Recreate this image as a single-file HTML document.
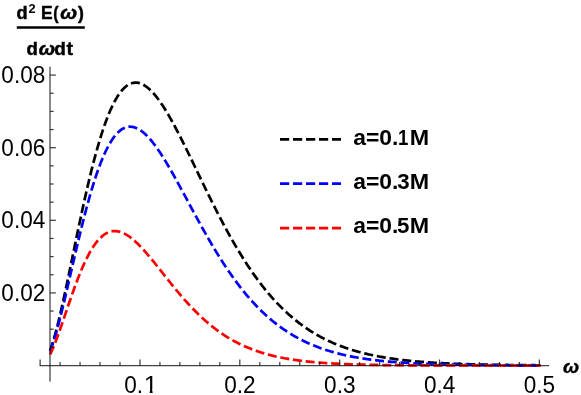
<!DOCTYPE html>
<html><head><meta charset="utf-8"><title>chart</title><style>html,body{margin:0;padding:0;background:#fff;}body{width:581px;height:395px;overflow:hidden;font-family:"Liberation Sans",sans-serif;}svg{display:block;will-change:transform;}</style></head><body>
<svg width="581" height="395" viewBox="0 0 581 395">
<rect width="581" height="395" fill="#fff"/>
<path d="M50.10,350.63 L51.33,347.10 L52.55,343.28 L53.78,339.20 L55.01,334.86 L56.24,330.29 L57.46,325.52 L58.69,320.56 L59.92,315.43 L61.14,310.15 L62.37,304.73 L63.60,299.19 L64.83,293.55 L66.05,287.82 L67.28,282.02 L68.51,276.17 L69.73,270.27 L70.96,264.34 L72.19,258.39 L73.42,252.43 L74.64,246.48 L75.87,240.55 L77.10,234.64 L78.32,228.77 L79.55,222.95 L80.78,217.18 L82.01,211.47 L83.23,205.83 L84.46,200.28 L85.69,194.80 L86.91,189.42 L88.14,184.14 L89.37,178.96 L90.60,173.90 L91.82,168.94 L93.05,164.11 L94.28,159.39 L95.50,154.81 L96.73,150.35 L97.96,146.03 L99.19,141.84 L100.41,137.79 L101.64,133.88 L102.87,130.11 L104.09,126.49 L105.32,123.01 L106.55,119.68 L107.78,116.50 L109.00,113.46 L110.23,110.57 L111.46,107.83 L112.68,105.24 L113.91,102.79 L115.14,100.49 L116.37,98.34 L117.59,96.33 L118.82,94.47 L120.05,92.75 L121.28,91.17 L122.50,89.73 L123.73,88.43 L124.96,87.27 L126.18,86.24 L127.41,85.34 L128.64,84.58 L129.87,83.94 L131.09,83.43 L132.32,83.05 L133.55,82.79 L134.77,82.64 L136.00,82.62 L137.23,82.70 L138.46,82.90 L139.68,83.21 L140.91,83.62 L142.14,84.14 L143.36,84.76 L144.59,85.48 L145.82,86.29 L147.05,87.19 L148.27,88.19 L149.50,89.27 L150.73,90.43 L151.95,91.68 L153.18,93.01 L154.41,94.41 L155.64,95.88 L156.86,97.43 L158.09,99.04 L159.32,100.72 L160.54,102.46 L161.77,104.26 L163.00,106.11 L164.23,108.02 L165.45,109.99 L166.68,112.00 L167.91,114.06 L169.13,116.16 L170.36,118.30 L171.59,120.49 L172.82,122.71 L174.04,124.97 L175.27,127.26 L176.50,129.58 L177.72,131.92 L178.95,134.30 L180.18,136.70 L181.41,139.12 L182.63,141.56 L183.86,144.02 L185.09,146.50 L186.31,148.99 L187.54,151.50 L188.77,154.01 L190.00,156.54 L191.22,159.07 L192.45,161.61 L193.68,164.16 L194.90,166.71 L196.13,169.26 L197.36,171.81 L198.59,174.36 L199.81,176.91 L201.04,179.46 L202.27,182.00 L203.49,184.53 L204.72,187.06 L205.95,189.58 L207.18,192.09 L208.40,194.60 L209.63,197.09 L210.86,199.57 L212.08,202.03 L213.31,204.49 L214.54,206.93 L215.77,209.35 L216.99,211.76 L218.22,214.15 L219.45,216.53 L220.67,218.89 L221.90,221.22 L223.13,223.55 L224.36,225.85 L225.58,228.13 L226.81,230.39 L228.04,232.63 L229.26,234.85 L230.49,237.05 L231.72,239.22 L232.95,241.38 L234.17,243.51 L235.40,245.62 L236.63,247.70 L237.85,249.77 L239.08,251.80 L240.31,253.82 L241.54,255.81 L242.76,257.78 L243.99,259.72 L245.22,261.64 L246.45,263.54 L247.67,265.41 L248.90,267.26 L250.13,269.08 L251.35,270.88 L252.58,272.65 L253.81,274.40 L255.04,276.13 L256.26,277.83 L257.49,279.50 L258.72,281.16 L259.94,282.78 L261.17,284.39 L262.40,285.97 L263.63,287.53 L264.85,289.06 L266.08,290.57 L267.31,292.05 L268.53,293.52 L269.76,294.96 L270.99,296.37 L272.22,297.77 L273.44,299.14 L274.67,300.49 L275.90,301.81 L277.12,303.12 L278.35,304.40 L279.58,305.66 L280.81,306.90 L282.03,308.12 L283.26,309.31 L284.49,310.49 L285.71,311.65 L286.94,312.78 L288.17,313.90 L289.40,314.99 L290.62,316.07 L291.85,317.12 L293.08,318.16 L294.30,319.18 L295.53,320.18 L296.76,321.16 L297.99,322.12 L299.21,323.06 L300.44,323.99 L301.67,324.90 L302.89,325.79 L304.12,326.67 L305.35,327.52 L306.58,328.36 L307.80,329.19 L309.03,330.00 L310.26,330.79 L311.48,331.57 L312.71,332.33 L313.94,333.08 L315.17,333.81 L316.39,334.53 L317.62,335.23 L318.85,335.92 L320.07,336.59 L321.30,337.25 L322.53,337.90 L323.76,338.53 L324.98,339.15 L326.21,339.76 L327.44,340.36 L328.66,340.94 L329.89,341.51 L331.12,342.07 L332.35,342.62 L333.57,343.15 L334.80,343.67 L336.03,344.19 L337.25,344.69 L338.48,345.18 L339.71,345.66 L340.94,346.13 L342.16,346.59 L343.39,347.04 L344.62,347.48 L345.84,347.91 L347.07,348.33 L348.30,348.74 L349.53,349.15 L350.75,349.54 L351.98,349.92 L353.21,350.30 L354.43,350.67 L355.66,351.03 L356.89,351.38 L358.12,351.72 L359.34,352.06 L360.57,352.39 L361.80,352.71 L363.02,353.02 L364.25,353.33 L365.48,353.63 L366.71,353.92 L367.93,354.21 L369.16,354.48 L370.39,354.76 L371.62,355.02 L372.84,355.28 L374.07,355.54 L375.30,355.79 L376.52,356.03 L377.75,356.27 L378.98,356.50 L380.21,356.72 L381.43,356.94 L382.66,357.16 L383.89,357.37 L385.11,357.57 L386.34,357.77 L387.57,357.97 L388.80,358.16 L390.02,358.35 L391.25,358.53 L392.48,358.70 L393.70,358.88 L394.93,359.05 L396.16,359.21 L397.39,359.37 L398.61,359.53 L399.84,359.68 L401.07,359.83 L402.29,359.98 L403.52,360.12 L404.75,360.26 L405.98,360.39 L407.20,360.53 L408.43,360.65 L409.66,360.78 L410.88,360.90 L412.11,361.02 L413.34,361.14 L414.57,361.25 L415.79,361.36 L417.02,361.47 L418.25,361.58 L419.47,361.68 L420.70,361.78 L421.93,361.88 L423.16,361.97 L424.38,362.06 L425.61,362.15 L426.84,362.24 L428.06,362.33 L429.29,362.41 L430.52,362.49 L431.75,362.57 L432.97,362.65 L434.20,362.73 L435.43,362.80 L436.65,362.87 L437.88,362.94 L439.11,363.01 L440.34,363.08 L441.56,363.14 L442.79,363.20 L444.02,363.27 L445.24,363.33 L446.47,363.38 L447.70,363.44 L448.93,363.50 L450.15,363.55 L451.38,363.60 L452.61,363.65 L453.83,363.70 L455.06,363.75 L456.29,363.80 L457.52,363.84 L458.74,363.89 L459.97,363.93 L461.20,363.98 L462.42,364.02 L463.65,364.06 L464.88,364.10 L466.11,364.13 L467.33,364.17 L468.56,364.21 L469.79,364.24 L471.01,364.28 L472.24,364.31 L473.47,364.34 L474.70,364.37 L475.92,364.41 L477.15,364.44 L478.38,364.46 L479.60,364.49 L480.83,364.52 L482.06,364.55 L483.29,364.57 L484.51,364.60 L485.74,364.62 L486.97,364.65 L488.19,364.67 L489.42,364.70 L490.65,364.72 L491.88,364.74 L493.10,364.76 L494.33,364.78 L495.56,364.80 L496.78,364.82 L498.01,364.84 L499.24,364.86 L500.47,364.88 L501.69,364.89 L502.92,364.91 L504.15,364.93 L505.38,364.94 L506.60,364.96 L507.83,364.97 L509.06,364.99 L510.28,365.00 L511.51,365.02 L512.74,365.03 L513.97,365.04 L515.19,365.06 L516.42,365.07 L517.65,365.08 L518.87,365.09 L520.10,365.10 L521.33,365.11 L522.56,365.13 L523.78,365.14 L525.01,365.15 L526.24,365.16 L527.46,365.17 L528.69,365.18 L529.92,365.18 L531.15,365.19 L532.37,365.20 L533.60,365.21 L534.83,365.22 L536.05,365.23 L537.28,365.23 L538.51,365.24 L539.74,365.25 L540.96,365.26" fill="none" stroke="#000000" stroke-width="2.7" stroke-dasharray="9.05 3.8" stroke-linejoin="round"/>
<path d="M50.10,351.48 L51.33,348.18 L52.55,344.61 L53.78,340.80 L55.01,336.77 L56.24,332.53 L57.46,328.11 L58.69,323.53 L59.92,318.80 L61.14,313.94 L62.37,308.97 L63.60,303.90 L64.83,298.75 L66.05,293.54 L67.28,288.28 L68.51,282.98 L69.73,277.65 L70.96,272.32 L72.19,266.98 L73.42,261.66 L74.64,256.36 L75.87,251.09 L77.10,245.86 L78.32,240.68 L79.55,235.57 L80.78,230.52 L82.01,225.54 L83.23,220.65 L84.46,215.84 L85.69,211.13 L86.91,206.52 L88.14,202.02 L89.37,197.63 L90.60,193.35 L91.82,189.19 L93.05,185.15 L94.28,181.24 L95.50,177.46 L96.73,173.80 L97.96,170.28 L99.19,166.90 L100.41,163.65 L101.64,160.55 L102.87,157.58 L104.09,154.75 L105.32,152.06 L106.55,149.51 L107.78,147.10 L109.00,144.84 L110.23,142.71 L111.46,140.72 L112.68,138.87 L113.91,137.16 L115.14,135.58 L116.37,134.14 L117.59,132.84 L118.82,131.66 L120.05,130.62 L121.28,129.70 L122.50,128.91 L123.73,128.25 L124.96,127.70 L126.18,127.28 L127.41,126.98 L128.64,126.78 L129.87,126.71 L131.09,126.74 L132.32,126.88 L133.55,127.12 L134.77,127.46 L136.00,127.91 L137.23,128.45 L138.46,129.08 L139.68,129.81 L140.91,130.62 L142.14,131.52 L143.36,132.50 L144.59,133.56 L145.82,134.70 L147.05,135.91 L148.27,137.20 L149.50,138.55 L150.73,139.96 L151.95,141.44 L153.18,142.98 L154.41,144.58 L155.64,146.23 L156.86,147.94 L158.09,149.69 L159.32,151.49 L160.54,153.34 L161.77,155.22 L163.00,157.15 L164.23,159.12 L165.45,161.12 L166.68,163.15 L167.91,165.21 L169.13,167.30 L170.36,169.42 L171.59,171.56 L172.82,173.72 L174.04,175.91 L175.27,178.11 L176.50,180.33 L177.72,182.56 L178.95,184.80 L180.18,187.06 L181.41,189.32 L182.63,191.59 L183.86,193.87 L185.09,196.15 L186.31,198.44 L187.54,200.72 L188.77,203.01 L190.00,205.29 L191.22,207.58 L192.45,209.86 L193.68,212.13 L194.90,214.40 L196.13,216.66 L197.36,218.91 L198.59,221.15 L199.81,223.39 L201.04,225.61 L202.27,227.82 L203.49,230.01 L204.72,232.20 L205.95,234.37 L207.18,236.52 L208.40,238.66 L209.63,240.78 L210.86,242.88 L212.08,244.97 L213.31,247.04 L214.54,249.09 L215.77,251.12 L216.99,253.13 L218.22,255.12 L219.45,257.09 L220.67,259.04 L221.90,260.97 L223.13,262.87 L224.36,264.76 L225.58,266.62 L226.81,268.46 L228.04,270.28 L229.26,272.08 L230.49,273.85 L231.72,275.60 L232.95,277.33 L234.17,279.03 L235.40,280.72 L236.63,282.37 L237.85,284.01 L239.08,285.62 L240.31,287.21 L241.54,288.78 L242.76,290.32 L243.99,291.84 L245.22,293.34 L246.45,294.81 L247.67,296.26 L248.90,297.69 L250.13,299.09 L251.35,300.48 L252.58,301.84 L253.81,303.17 L255.04,304.49 L256.26,305.78 L257.49,307.05 L258.72,308.30 L259.94,309.53 L261.17,310.74 L262.40,311.93 L263.63,313.09 L264.85,314.24 L266.08,315.36 L267.31,316.46 L268.53,317.55 L269.76,318.61 L270.99,319.65 L272.22,320.68 L273.44,321.68 L274.67,322.67 L275.90,323.63 L277.12,324.58 L278.35,325.51 L279.58,326.42 L280.81,327.32 L282.03,328.20 L283.26,329.06 L284.49,329.90 L285.71,330.72 L286.94,331.53 L288.17,332.32 L289.40,333.10 L290.62,333.86 L291.85,334.61 L293.08,335.33 L294.30,336.05 L295.53,336.75 L296.76,337.43 L297.99,338.10 L299.21,338.76 L300.44,339.40 L301.67,340.03 L302.89,340.64 L304.12,341.25 L305.35,341.83 L306.58,342.41 L307.80,342.97 L309.03,343.52 L310.26,344.06 L311.48,344.59 L312.71,345.10 L313.94,345.61 L315.17,346.10 L316.39,346.58 L317.62,347.05 L318.85,347.51 L320.07,347.96 L321.30,348.40 L322.53,348.83 L323.76,349.25 L324.98,349.66 L326.21,350.06 L327.44,350.45 L328.66,350.83 L329.89,351.20 L331.12,351.57 L332.35,351.92 L333.57,352.27 L334.80,352.61 L336.03,352.94 L337.25,353.26 L338.48,353.58 L339.71,353.89 L340.94,354.19 L342.16,354.48 L343.39,354.77 L344.62,355.04 L345.84,355.32 L347.07,355.58 L348.30,355.84 L349.53,356.10 L350.75,356.34 L351.98,356.58 L353.21,356.82 L354.43,357.05 L355.66,357.27 L356.89,357.49 L358.12,357.70 L359.34,357.91 L360.57,358.11 L361.80,358.31 L363.02,358.50 L364.25,358.69 L365.48,358.87 L366.71,359.05 L367.93,359.22 L369.16,359.39 L370.39,359.55 L371.62,359.71 L372.84,359.87 L374.07,360.02 L375.30,360.17 L376.52,360.31 L377.75,360.46 L378.98,360.59 L380.21,360.73 L381.43,360.86 L382.66,360.98 L383.89,361.11 L385.11,361.23 L386.34,361.34 L387.57,361.46 L388.80,361.57 L390.02,361.68 L391.25,361.78 L392.48,361.89 L393.70,361.99 L394.93,362.08 L396.16,362.18 L397.39,362.27 L398.61,362.36 L399.84,362.45 L401.07,362.53 L402.29,362.61 L403.52,362.70 L404.75,362.77 L405.98,362.85 L407.20,362.92 L408.43,363.00 L409.66,363.07 L410.88,363.14 L412.11,363.20 L413.34,363.27 L414.57,363.33 L415.79,363.39 L417.02,363.45 L418.25,363.51 L419.47,363.57 L420.70,363.62 L421.93,363.67 L423.16,363.73 L424.38,363.78 L425.61,363.82 L426.84,363.87 L428.06,363.92 L429.29,363.96 L430.52,364.01 L431.75,364.05 L432.97,364.09 L434.20,364.13 L435.43,364.17 L436.65,364.21 L437.88,364.25 L439.11,364.28 L440.34,364.32 L441.56,364.35 L442.79,364.39 L444.02,364.42 L445.24,364.45 L446.47,364.48 L447.70,364.51 L448.93,364.54 L450.15,364.57 L451.38,364.59 L452.61,364.62 L453.83,364.65 L455.06,364.67 L456.29,364.69 L457.52,364.72 L458.74,364.74 L459.97,364.76 L461.20,364.78 L462.42,364.81 L463.65,364.83 L464.88,364.85 L466.11,364.86 L467.33,364.88 L468.56,364.90 L469.79,364.92 L471.01,364.94 L472.24,364.95 L473.47,364.97 L474.70,364.98 L475.92,365.00 L477.15,365.01 L478.38,365.03 L479.60,365.04 L480.83,365.06 L482.06,365.07 L483.29,365.08 L484.51,365.10 L485.74,365.11 L486.97,365.12 L488.19,365.13 L489.42,365.14 L490.65,365.15 L491.88,365.16 L493.10,365.17 L494.33,365.18 L495.56,365.19 L496.78,365.20 L498.01,365.21 L499.24,365.22 L500.47,365.23 L501.69,365.24 L502.92,365.24 L504.15,365.25 L505.38,365.26 L506.60,365.27 L507.83,365.27 L509.06,365.28 L510.28,365.29 L511.51,365.29 L512.74,365.30 L513.97,365.30 L515.19,365.31 L516.42,365.32 L517.65,365.32 L518.87,365.33 L520.10,365.33 L521.33,365.34 L522.56,365.34 L523.78,365.35 L525.01,365.35 L526.24,365.36 L527.46,365.36 L528.69,365.37 L529.92,365.37 L531.15,365.37 L532.37,365.38 L533.60,365.38 L534.83,365.38 L536.05,365.39 L537.28,365.39 L538.51,365.39 L539.74,365.40 L540.96,365.40" fill="none" stroke="#0000ff" stroke-width="2.7" stroke-dasharray="8.975 3.8" stroke-linejoin="round"/>
<path d="M50.10,354.41 L51.33,351.86 L52.55,349.13 L53.78,346.23 L55.01,343.18 L56.24,340.01 L57.46,336.73 L58.69,333.35 L59.92,329.90 L61.14,326.39 L62.37,322.83 L63.60,319.24 L64.83,315.62 L66.05,312.00 L67.28,308.38 L68.51,304.78 L69.73,301.20 L70.96,297.65 L72.19,294.15 L73.42,290.70 L74.64,287.30 L75.87,283.98 L77.10,280.72 L78.32,277.54 L79.55,274.45 L80.78,271.45 L82.01,268.54 L83.23,265.72 L84.46,263.01 L85.69,260.40 L86.91,257.90 L88.14,255.51 L89.37,253.23 L90.60,251.06 L91.82,249.00 L93.05,247.06 L94.28,245.23 L95.50,243.52 L96.73,241.92 L97.96,240.44 L99.19,239.07 L100.41,237.81 L101.64,236.67 L102.87,235.64 L104.09,234.72 L105.32,233.91 L106.55,233.20 L107.78,232.60 L109.00,232.10 L110.23,231.70 L111.46,231.40 L112.68,231.20 L113.91,231.09 L115.14,231.07 L116.37,231.14 L117.59,231.30 L118.82,231.54 L120.05,231.86 L121.28,232.26 L122.50,232.74 L123.73,233.28 L124.96,233.90 L126.18,234.58 L127.41,235.33 L128.64,236.14 L129.87,237.01 L131.09,237.93 L132.32,238.91 L133.55,239.93 L134.77,241.01 L136.00,242.13 L137.23,243.29 L138.46,244.49 L139.68,245.73 L140.91,247.01 L142.14,248.32 L143.36,249.66 L144.59,251.02 L145.82,252.41 L147.05,253.83 L148.27,255.27 L149.50,256.72 L150.73,258.20 L151.95,259.69 L153.18,261.19 L154.41,262.71 L155.64,264.23 L156.86,265.77 L158.09,267.31 L159.32,268.85 L160.54,270.40 L161.77,271.95 L163.00,273.50 L164.23,275.05 L165.45,276.60 L166.68,278.15 L167.91,279.69 L169.13,281.23 L170.36,282.76 L171.59,284.28 L172.82,285.80 L174.04,287.30 L175.27,288.80 L176.50,290.28 L177.72,291.75 L178.95,293.21 L180.18,294.66 L181.41,296.09 L182.63,297.51 L183.86,298.92 L185.09,300.30 L186.31,301.68 L187.54,303.03 L188.77,304.37 L190.00,305.70 L191.22,307.00 L192.45,308.29 L193.68,309.56 L194.90,310.81 L196.13,312.05 L197.36,313.26 L198.59,314.46 L199.81,315.64 L201.04,316.79 L202.27,317.94 L203.49,319.06 L204.72,320.16 L205.95,321.24 L207.18,322.31 L208.40,323.35 L209.63,324.38 L210.86,325.39 L212.08,326.38 L213.31,327.35 L214.54,328.30 L215.77,329.23 L216.99,330.15 L218.22,331.04 L219.45,331.92 L220.67,332.78 L221.90,333.63 L223.13,334.45 L224.36,335.26 L225.58,336.05 L226.81,336.82 L228.04,337.58 L229.26,338.32 L230.49,339.05 L231.72,339.75 L232.95,340.45 L234.17,341.12 L235.40,341.78 L236.63,342.43 L237.85,343.06 L239.08,343.68 L240.31,344.28 L241.54,344.87 L242.76,345.44 L243.99,346.00 L245.22,346.55 L246.45,347.08 L247.67,347.60 L248.90,348.10 L250.13,348.60 L251.35,349.08 L252.58,349.55 L253.81,350.01 L255.04,350.45 L256.26,350.89 L257.49,351.31 L258.72,351.72 L259.94,352.13 L261.17,352.52 L262.40,352.90 L263.63,353.27 L264.85,353.63 L266.08,353.98 L267.31,354.32 L268.53,354.66 L269.76,354.98 L270.99,355.29 L272.22,355.60 L273.44,355.90 L274.67,356.19 L275.90,356.47 L277.12,356.74 L278.35,357.01 L279.58,357.27 L280.81,357.52 L282.03,357.77 L283.26,358.00 L284.49,358.23 L285.71,358.46 L286.94,358.68 L288.17,358.89 L289.40,359.09 L290.62,359.29 L291.85,359.49 L293.08,359.67 L294.30,359.86 L295.53,360.03 L296.76,360.21 L297.99,360.37 L299.21,360.54 L300.44,360.69 L301.67,360.85 L302.89,360.99 L304.12,361.14 L305.35,361.28 L306.58,361.41 L307.80,361.54 L309.03,361.67 L310.26,361.79 L311.48,361.91 L312.71,362.03 L313.94,362.14 L315.17,362.25 L316.39,362.36 L317.62,362.46 L318.85,362.56 L320.07,362.65 L321.30,362.75 L322.53,362.84 L323.76,362.92 L324.98,363.01 L326.21,363.09 L327.44,363.17 L328.66,363.25 L329.89,363.32 L331.12,363.39 L332.35,363.46 L333.57,363.53 L334.80,363.60 L336.03,363.66 L337.25,363.72 L338.48,363.78 L339.71,363.84 L340.94,363.89 L342.16,363.95 L343.39,364.00 L344.62,364.05 L345.84,364.10 L347.07,364.15 L348.30,364.19 L349.53,364.24 L350.75,364.28 L351.98,364.32 L353.21,364.36 L354.43,364.40 L355.66,364.44 L356.89,364.47 L358.12,364.51 L359.34,364.54 L360.57,364.58 L361.80,364.61 L363.02,364.64 L364.25,364.67 L365.48,364.70 L366.71,364.72 L367.93,364.75 L369.16,364.78 L370.39,364.80 L371.62,364.83 L372.84,364.85 L374.07,364.87 L375.30,364.89 L376.52,364.92 L377.75,364.94 L378.98,364.96 L380.21,364.97 L381.43,364.99 L382.66,365.01 L383.89,365.03 L385.11,365.04 L386.34,365.06 L387.57,365.08 L388.80,365.09 L390.02,365.10 L391.25,365.12 L392.48,365.13 L393.70,365.15 L394.93,365.16 L396.16,365.17 L397.39,365.18 L398.61,365.19 L399.84,365.20 L401.07,365.21 L402.29,365.22 L403.52,365.23 L404.75,365.24 L405.98,365.25 L407.20,365.26 L408.43,365.27 L409.66,365.28 L410.88,365.29 L412.11,365.29 L413.34,365.30 L414.57,365.31 L415.79,365.32 L417.02,365.32 L418.25,365.33 L419.47,365.33 L420.70,365.34 L421.93,365.35 L423.16,365.35 L424.38,365.36 L425.61,365.36 L426.84,365.37 L428.06,365.37 L429.29,365.38 L430.52,365.38 L431.75,365.39 L432.97,365.39 L434.20,365.39 L435.43,365.40 L436.65,365.40 L437.88,365.40 L439.11,365.41 L440.34,365.41 L441.56,365.41 L442.79,365.42 L444.02,365.42 L445.24,365.42 L446.47,365.43 L447.70,365.43 L448.93,365.43 L450.15,365.43 L451.38,365.44 L452.61,365.44 L453.83,365.44 L455.06,365.44 L456.29,365.45 L457.52,365.45 L458.74,365.45 L459.97,365.45 L461.20,365.45 L462.42,365.45 L463.65,365.46 L464.88,365.46 L466.11,365.46 L467.33,365.46 L468.56,365.46 L469.79,365.46 L471.01,365.47 L472.24,365.47 L473.47,365.47 L474.70,365.47 L475.92,365.47 L477.15,365.47 L478.38,365.47 L479.60,365.47 L480.83,365.47 L482.06,365.48 L483.29,365.48 L484.51,365.48 L485.74,365.48 L486.97,365.48 L488.19,365.48 L489.42,365.48 L490.65,365.48 L491.88,365.48 L493.10,365.48 L494.33,365.48 L495.56,365.48 L496.78,365.48 L498.01,365.49 L499.24,365.49 L500.47,365.49 L501.69,365.49 L502.92,365.49 L504.15,365.49 L505.38,365.49 L506.60,365.49 L507.83,365.49 L509.06,365.49 L510.28,365.49 L511.51,365.49 L512.74,365.49 L513.97,365.49 L515.19,365.49 L516.42,365.49 L517.65,365.49 L518.87,365.49 L520.10,365.49 L521.33,365.49 L522.56,365.49 L523.78,365.49 L525.01,365.49 L526.24,365.49 L527.46,365.49 L528.69,365.49 L529.92,365.49 L531.15,365.49 L532.37,365.49 L533.60,365.50 L534.83,365.50 L536.05,365.50 L537.28,365.50 L538.51,365.50 L539.74,365.50 L540.96,365.50" fill="none" stroke="#ff0000" stroke-width="2.7" stroke-dasharray="8.985 3.8" stroke-linejoin="round"/>
<g stroke="#000000" stroke-opacity="0.74" stroke-width="1.25" fill="none">
<line x1="39.6" y1="365.5" x2="549" y2="365.5"/>
<line x1="50" y1="66.8" x2="50" y2="381.5"/>
<line x1="40.12" y1="365.5" x2="40.12" y2="359.5"/>
<line x1="60.09" y1="365.5" x2="60.09" y2="362.0"/>
<line x1="80.06" y1="365.5" x2="80.06" y2="362.0"/>
<line x1="100.03" y1="365.5" x2="100.03" y2="362.0"/>
<line x1="120.00" y1="365.5" x2="120.00" y2="362.0"/>
<line x1="139.97" y1="365.5" x2="139.97" y2="359.5"/>
<line x1="159.94" y1="365.5" x2="159.94" y2="362.0"/>
<line x1="179.91" y1="365.5" x2="179.91" y2="362.0"/>
<line x1="199.88" y1="365.5" x2="199.88" y2="362.0"/>
<line x1="219.84" y1="365.5" x2="219.84" y2="362.0"/>
<line x1="239.81" y1="365.5" x2="239.81" y2="359.5"/>
<line x1="259.79" y1="365.5" x2="259.79" y2="362.0"/>
<line x1="279.75" y1="365.5" x2="279.75" y2="362.0"/>
<line x1="299.73" y1="365.5" x2="299.73" y2="362.0"/>
<line x1="319.70" y1="365.5" x2="319.70" y2="362.0"/>
<line x1="339.67" y1="365.5" x2="339.67" y2="359.5"/>
<line x1="359.64" y1="365.5" x2="359.64" y2="362.0"/>
<line x1="379.61" y1="365.5" x2="379.61" y2="362.0"/>
<line x1="399.57" y1="365.5" x2="399.57" y2="362.0"/>
<line x1="419.55" y1="365.5" x2="419.55" y2="362.0"/>
<line x1="439.52" y1="365.5" x2="439.52" y2="359.5"/>
<line x1="459.49" y1="365.5" x2="459.49" y2="362.0"/>
<line x1="479.46" y1="365.5" x2="479.46" y2="362.0"/>
<line x1="499.43" y1="365.5" x2="499.43" y2="362.0"/>
<line x1="519.39" y1="365.5" x2="519.39" y2="362.0"/>
<line x1="539.37" y1="365.5" x2="539.37" y2="359.5"/>
<line x1="50.1" y1="347.35" x2="53.7" y2="347.35"/>
<line x1="50.1" y1="329.20" x2="53.7" y2="329.20"/>
<line x1="50.1" y1="311.05" x2="53.7" y2="311.05"/>
<line x1="50.1" y1="292.90" x2="55.9" y2="292.90"/>
<line x1="50.1" y1="274.75" x2="53.7" y2="274.75"/>
<line x1="50.1" y1="256.60" x2="53.7" y2="256.60"/>
<line x1="50.1" y1="238.45" x2="53.7" y2="238.45"/>
<line x1="50.1" y1="220.30" x2="55.9" y2="220.30"/>
<line x1="50.1" y1="202.15" x2="53.7" y2="202.15"/>
<line x1="50.1" y1="184.00" x2="53.7" y2="184.00"/>
<line x1="50.1" y1="165.85" x2="53.7" y2="165.85"/>
<line x1="50.1" y1="147.70" x2="55.9" y2="147.70"/>
<line x1="50.1" y1="129.55" x2="53.7" y2="129.55"/>
<line x1="50.1" y1="111.40" x2="53.7" y2="111.40"/>
<line x1="50.1" y1="93.25" x2="53.7" y2="93.25"/>
<line x1="50.1" y1="75.10" x2="55.9" y2="75.10"/>
</g>
<g font-family="Liberation Sans, sans-serif" font-size="23.3" fill="#000">
<text transform="translate(239.91,392.7) scale(0.97,1)" text-anchor="middle">0.2</text>
<text transform="translate(339.77,392.7) scale(0.97,1)" text-anchor="middle">0.3</text>
<text transform="translate(439.62,392.7) scale(0.97,1)" text-anchor="middle">0.4</text>
<text transform="translate(539.47,392.7) scale(0.97,1)" text-anchor="middle">0.5</text>
<text transform="translate(124.23,392.70) scale(0.9695,1)" font-family="Liberation Sans, sans-serif" font-size="23.3" font-weight="normal" font-style="normal" fill="#000">0.</text>
<clipPath id="c1"><rect x="-2" y="-22" width="16" height="18"/><rect x="5.56" y="-4.5" width="2.66" height="6"/></clipPath>
<text transform="translate(143.70,392.7) scale(1.08,1)" clip-path="url(#c1)">1</text>
<text transform="translate(45.3,300.90) scale(0.97,1)" text-anchor="end">0.02</text>
<text transform="translate(45.3,228.30) scale(0.97,1)" text-anchor="end">0.04</text>
<text transform="translate(45.3,155.70) scale(0.97,1)" text-anchor="end">0.06</text>
<text transform="translate(45.3,83.10) scale(0.97,1)" text-anchor="end">0.08</text>
</g>
<line x1="280" y1="139.3" x2="341" y2="139.3" stroke="#000000" stroke-width="2.7" stroke-dasharray="9.2 3.8"/>
<text transform="translate(353.18,144.50) scale(1.0263,1)" font-family="Liberation Sans, sans-serif" font-size="22.3" font-weight="bold" font-style="normal" >a=0.</text>
<text transform="translate(398.03,144.50) scale(0.8365,1)" font-family="Liberation Sans, sans-serif" font-size="22.3" font-weight="bold" font-style="normal" >1</text>
<text transform="translate(409.83,144.50) scale(1.0449,1)" font-family="Liberation Sans, sans-serif" font-size="22.3" font-weight="bold" font-style="normal" >M</text>
<line x1="280" y1="183.7" x2="341" y2="183.7" stroke="#0000ff" stroke-width="2.7" stroke-dasharray="9.2 3.8"/>
<text transform="translate(353.18,188.90) scale(1.0263,1)" font-family="Liberation Sans, sans-serif" font-size="22.3" font-weight="bold" font-style="normal" >a=0.</text>
<text transform="translate(397.20,188.90) scale(1.0000,1)" font-family="Liberation Sans, sans-serif" font-size="22.3" font-weight="bold" font-style="normal" >3</text>
<text transform="translate(409.83,188.90) scale(1.0449,1)" font-family="Liberation Sans, sans-serif" font-size="22.3" font-weight="bold" font-style="normal" >M</text>
<line x1="280" y1="228.1" x2="341" y2="228.1" stroke="#ff0000" stroke-width="2.7" stroke-dasharray="9.2 3.8"/>
<text transform="translate(353.18,233.30) scale(1.0263,1)" font-family="Liberation Sans, sans-serif" font-size="22.3" font-weight="bold" font-style="normal" >a=0.</text>
<text transform="translate(397.00,233.30) scale(1.0000,1)" font-family="Liberation Sans, sans-serif" font-size="22.3" font-weight="bold" font-style="normal" >5</text>
<text transform="translate(409.83,233.30) scale(1.0449,1)" font-family="Liberation Sans, sans-serif" font-size="22.3" font-weight="bold" font-style="normal" >M</text>
<text transform="translate(563.08,373.00) scale(1.0417,1)" font-family="Liberation Sans, sans-serif" font-size="18.6" font-weight="bold" font-style="italic" stroke="#000" stroke-width="0.3">ω</text>
<text transform="translate(16.59,18.90) scale(1.0110,1)" font-family="Liberation Sans, sans-serif" font-size="18.0" font-weight="bold" font-style="normal" stroke="#000" stroke-width="0.45">d</text>
<text transform="translate(28.39,13.00) scale(1.0333,1)" font-family="Liberation Sans, sans-serif" font-size="12.4" font-weight="bold" font-style="normal" >2</text>
<text transform="translate(40.94,18.90) scale(0.9703,1)" font-family="Liberation Sans, sans-serif" font-size="18.0" font-weight="bold" font-style="normal" stroke="#000" stroke-width="0.45">E</text>
<text transform="translate(53.21,18.90) scale(0.8800,1)" font-family="Liberation Sans, sans-serif" font-size="18.0" font-weight="bold" font-style="normal" stroke="#000" stroke-width="0.45">(</text>
<text transform="translate(60.24,18.90) scale(1.1223,1)" font-family="Liberation Sans, sans-serif" font-size="18.0" font-weight="bold" font-style="italic" stroke="#000" stroke-width="0.45">ω</text>
<text transform="translate(77.90,18.90) scale(0.9800,1)" font-family="Liberation Sans, sans-serif" font-size="18.0" font-weight="bold" font-style="normal" stroke="#000" stroke-width="0.45">)</text>
<text transform="translate(26.48,54.50) scale(1.0330,1)" font-family="Liberation Sans, sans-serif" font-size="18.0" font-weight="bold" font-style="normal" stroke="#000" stroke-width="0.45">d</text>
<text transform="translate(38.76,54.50) scale(1.0863,1)" font-family="Liberation Sans, sans-serif" font-size="18.0" font-weight="bold" font-style="italic" stroke="#000" stroke-width="0.45">ω</text>
<text transform="translate(54.16,54.50) scale(1.0549,1)" font-family="Liberation Sans, sans-serif" font-size="18.0" font-weight="bold" font-style="normal" stroke="#000" stroke-width="0.45">d</text>
<text transform="translate(66.38,54.50) scale(1.0893,1)" font-family="Liberation Sans, sans-serif" font-size="18.0" font-weight="bold" font-style="normal" stroke="#000" stroke-width="0.45">t</text>
<line x1="16.8" y1="27.5" x2="84.8" y2="27.5" stroke="#000" stroke-width="2.3"/>
</svg>
</body></html>
